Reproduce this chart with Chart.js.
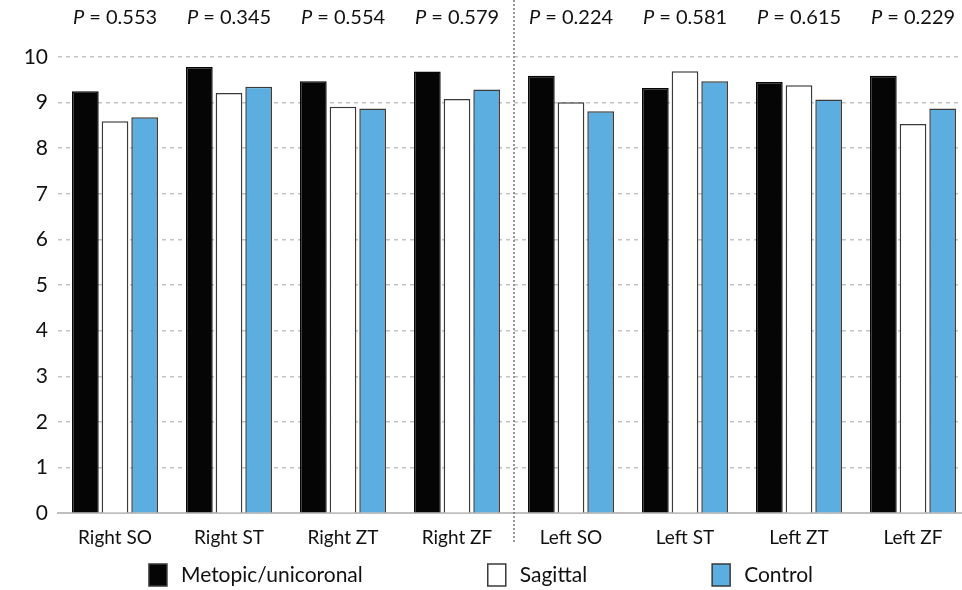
<!DOCTYPE html>
<html>
<head>
<meta charset="utf-8">
<script src="https://cdn.jsdelivr.net/npm/chart.js@4/dist/chart.umd.min.js"></script>
<style>
  html, body { margin: 0; padding: 0; background: #fff; overflow: hidden; }
  #wrap { position: relative; width: 970px; height: 590px; }
</style>
</head>
<body>
<div id="wrap"><canvas id="chart"></canvas></div>
<script>
// Chart data
const categories = ['Right SO', 'Right ST', 'Right ZT', 'Right ZF', 'Left SO', 'Left ST', 'Left ZT', 'Left ZF'];
const pValues = ['0.553', '0.345', '0.554', '0.579', '0.224', '0.581', '0.615', '0.229'];
const metopic = [9.25, 9.78, 9.47, 9.68, 9.59, 9.32, 9.45, 9.59];
const sagittal = [8.59, 9.21, 8.91, 9.08, 9.01, 9.69, 9.38, 8.53];
const control = [8.68, 9.35, 8.87, 9.29, 8.81, 9.47, 9.07, 8.87];
const yTicks = [0, 1, 2, 3, 4, 5, 6, 7, 8, 9, 10];

const FONT = 'Lato, "Open Sans", sans-serif';
const BLUE = '#5DAEE0';

// P values above each group + divider line between sides
const annotations = {
    id: 'annotations',
    afterDraw(chart) {
        const ctx = chart.ctx;
        const x = chart.scales.x;
        ctx.save();
        ctx.fillStyle = '#111';
        ctx.textBaseline = 'middle';
        categories.forEach((c, i) => {
            const cx = x.getPixelForValue(i);
            ctx.font = 'italic 20px ' + FONT;
            const pw = ctx.measureText('P').width;
            ctx.font = '20px ' + FONT;
            const rest = ' = ' + pValues[i];
            const rw = ctx.measureText(rest).width;
            const start = cx - (pw + rw) / 2;
            ctx.font = 'italic 20px ' + FONT;
            ctx.textAlign = 'left';
            ctx.fillText('P', start, 18);
            ctx.font = '20px ' + FONT;
            ctx.fillText(rest, start + pw, 18);
        });

        // dotted divider
        const dx = (x.getPixelForValue(3) + x.getPixelForValue(4)) / 2;
        ctx.strokeStyle = '#777';
        ctx.lineWidth = 1.5;
        ctx.setLineDash([2, 2]);
        ctx.beginPath();
        ctx.moveTo(dx, 0);
        ctx.lineTo(dx, 542);
        ctx.stroke();
        ctx.setLineDash([]);

        // legend
        const items = chart.data.datasets;
        ctx.font = '21px ' + FONT;
        const boxW = 18, boxH = 22, gapText = 14, gapItem = 125;
        let total = 0;
        items.forEach((d, i) => {
            total += boxW + gapText + ctx.measureText(d.label).width;
            if (i < items.length - 1) total += gapItem;
        });
        let lx = 481 - total / 2;
        const ly = 575;
        items.forEach(d => {
            ctx.fillStyle = d.backgroundColor;
            ctx.fillRect(lx, ly - boxH / 2, boxW, boxH);
            ctx.strokeStyle = '#3a3a3a';
            ctx.lineWidth = 1.5;
            ctx.strokeRect(lx, ly - boxH / 2, boxW, boxH);
            ctx.fillStyle = '#111';
            ctx.textAlign = 'left';
            ctx.fillText(d.label, lx + boxW + gapText, ly);
            lx += boxW + gapText + ctx.measureText(d.label).width + gapItem;
        });
        ctx.restore();
    }
};

new Chart(document.getElementById('chart'), {
    type: 'bar',
    data: {
        labels: categories,
        datasets: [
            { label: 'Metopic/unicoronal', data: metopic, backgroundColor: '#050505', borderColor: '#050505', borderWidth: 1.5 },
            { label: 'Sagittal', data: sagittal, backgroundColor: '#ffffff', borderColor: '#3a3a3a', borderWidth: 1.5 },
            { label: 'Control', data: control, backgroundColor: BLUE, borderColor: '#3a3a3a', borderWidth: 1.5 }
        ]
    },
    options: {
        responsive: true,
        maintainAspectRatio: false,
        animation: false,
        categoryPercentage: 0.78,
        barPercentage: 0.9,
        layout: { padding: { top: 57, bottom: 36, left: 0, right: 0 } },
        plugins: {
            legend: { display: false },
            tooltip: { enabled: false }
        },
        scales: {
            x: {
                grid: { display: false },
                border: { display: true, color: '#BFBFBF', width: 2 },
                ticks: { color: '#111', font: { family: FONT, size: 19 }, padding: 5 }
            },
            y: {
                min: 0,
                max: 10,
                afterBuildTicks: axis => { axis.ticks = yTicks.map(v => ({ value: v })); },
                afterFit: axis => { axis.width = 58; },
                grid: {
                    color: ctx => ctx.tick && ctx.tick.value === 0 ? 'rgba(0,0,0,0)' : '#C4C4C4',
                    lineWidth: 1.5,
                    drawTicks: false
                },
                border: { display: false, dash: [4, 4] },
                ticks: { color: '#111', font: { family: FONT, size: 21 }, padding: 10 }
            }
        }
    },
    plugins: [annotations]
});
</script>
</body>
</html>
